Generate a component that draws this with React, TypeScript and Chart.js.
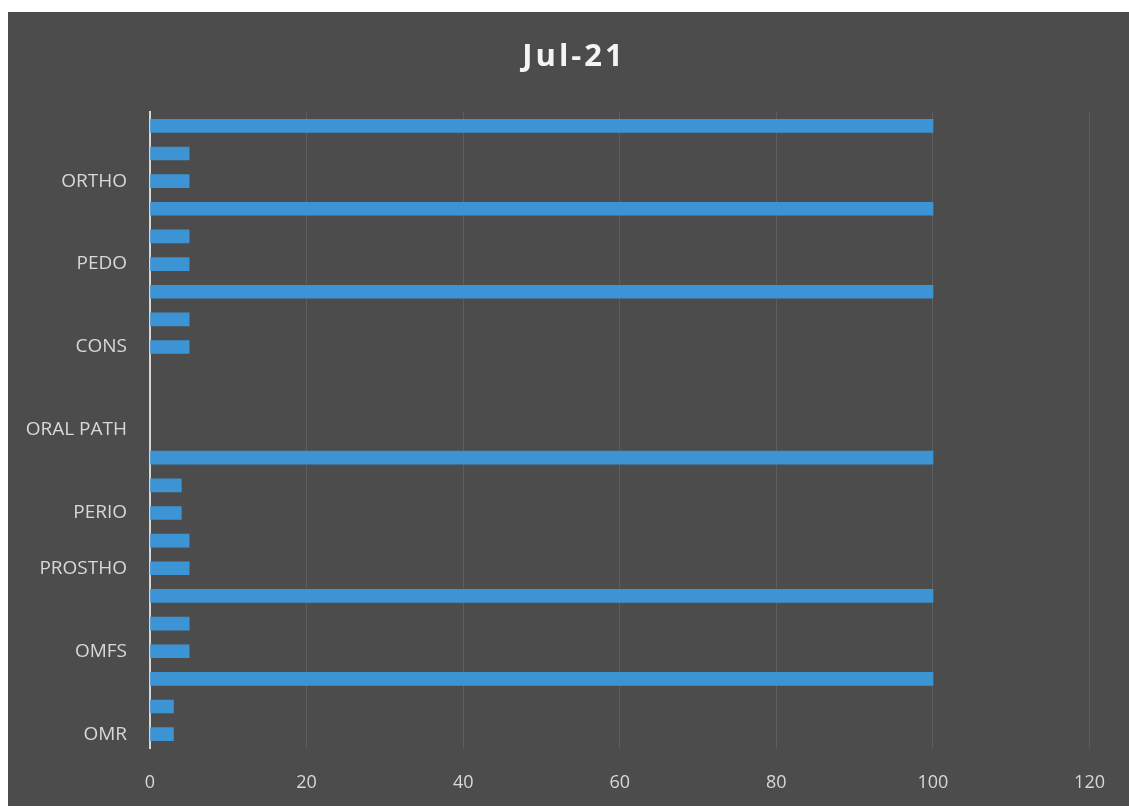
import React, { useEffect, useRef } from "react";
import { Chart, registerables } from "chart.js";

Chart.register(...registerables);

// Categories listed top to bottom (Excel draws them bottom to top)
const categories: string[] = [
  "", "", "ORTHO",
  "", "", "PEDO",
  "", "", "CONS",
  "", "", "ORAL PATH",
  "", "", "PERIO",
  "", "PROSTHO",
  "", "", "OMFS",
  "", "", "OMR",
];

const values: (number | null)[] = [
  100, 5, 5,
  100, 5, 5,
  100, 5, 5,
  null, null, null,
  100, 4, 4,
  5, 5,
  100, 5, 5,
  100, 3, 3,
];

const xTickMin = 0;
const xTickMax = 120;
const xTickStep = 20;
const chartTitle = "Jul-21";

const spacedTitle = {
  id: "spacedTitle",
  afterDraw(chart: any) {
    const ctx = chart.ctx as CanvasRenderingContext2D;
    ctx.save();
    ctx.font = "bold 31px 'Open Sans', sans-serif";
    (ctx as any).letterSpacing = "3px";
    ctx.fillStyle = "#f4f4f4";
    ctx.textAlign = "center";
    ctx.textBaseline = "middle";
    ctx.fillText(chartTitle, 566, 45);
    ctx.restore();
  },
};

export default function App() {
  const canvasRef = useRef<HTMLCanvasElement | null>(null);

  useEffect(() => {
    if (!canvasRef.current) return;
    const chart = new Chart(canvasRef.current, {
      type: "bar",
      data: {
        labels: categories,
        datasets: [
          {
            data: values,
            backgroundColor: "#3c94d5",
            borderWidth: 0,
            barThickness: 13,
          },
        ],
      },
      options: {
        indexAxis: "y",
        animation: false,
        responsive: true,
        maintainAspectRatio: false,
        layout: { padding: { left: 0, right: 39, top: 100, bottom: 0 } },
        plugins: {
          legend: { display: false },
          tooltip: { enabled: false },
          title: { display: false },
        },
        scales: {
          x: {
            min: xTickMin,
            max: xTickMax,
            ticks: {
              stepSize: xTickStep,
              color: "#d8d8d8",
              font: { family: "'Open Sans', sans-serif", size: 18 },
              padding: 24,
            },
            grid: {
              color: "rgba(255,255,255,0.1)",
              drawTicks: false,
              lineWidth: 1,
            },
            border: { display: false },
            afterFit: (scale: any) => {
              scale.height = 58;
            },
          },
          y: {
            ticks: {
              autoSkip: false,
              color: "#d8d8d8",
              font: { family: "'Open Sans', sans-serif", size: 19 },
              padding: 23,
            },
            grid: { display: false, drawTicks: false },
            border: { display: true, color: "#d6d6d6", width: 2 },
            afterFit: (scale: any) => {
              scale.width = 142;
            },
          },
        },
      },
      plugins: [spacedTitle],
    });
    return () => chart.destroy();
  }, []);

  return (
    <div
      style={{
        position: "fixed",
        left: 8,
        top: 12,
        width: 1121,
        height: 794,
        background: "#4d4c4c",
      }}
    >
      <canvas ref={canvasRef} />
    </div>
  );
}
